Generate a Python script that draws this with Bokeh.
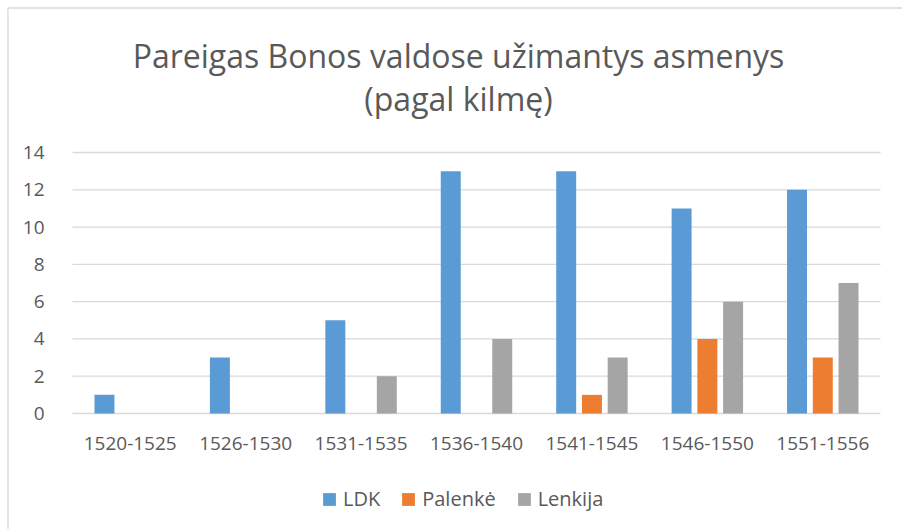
from bokeh.plotting import figure
from bokeh.models import (Range1d, ColumnDataSource, Legend, LegendItem,
                          Label, FixedTicker)
from bokeh.embed import file_html
from bokeh.resources import INLINE

categories = ["1520-1525", "1526-1530", "1531-1535", "1536-1540",
              "1541-1545", "1546-1550", "1551-1556"]
ldk = [1, 3, 5, 13, 13, 11, 12]
palenke = [0, 0, 0, 0, 1, 4, 3]
lenkija = [0, 0, 2, 4, 3, 6, 7]
series_names = ["LDK", "Palenkė", "Lenkija"]
colors = ["#5B9BD5", "#ED7D31", "#A5A5A5"]
y_ticks = [0, 2, 4, 6, 8, 10, 12, 14]
title_line1 = "Pareigas Bonos valdose užimantys asmenys"
title_line2 = "(pagal kilmę)"

FONT = "Open Sans"
TXT = "#595959"
GRID = "#D9D9D9"

# layout (pixels)
W, H = 902, 529
PLOT_L, PLOT_R = 72, 880            # pixel columns of the category band edges
ZERO_PX, TOP_PX = 413, 152          # pixel rows of value 0 and value 14
n = len(categories)
cat_w = (PLOT_R - PLOT_L) / n
ppu = (ZERO_PX - TOP_PX) / 14.0

def px_to_x(px):
    return (px - PLOT_L) / cat_w

def px_to_y(py):
    return (ZERO_PX - py) / ppu

x_start, x_end = px_to_x(0), px_to_x(W)
y_start, y_end = px_to_y(H), px_to_y(0)

centers = [i + 0.5 for i in range(n)]
w = 0.173
off = 0.223
src = ColumnDataSource(dict(x1=[c - off for c in centers], x2=centers,
                            x3=[c + off for c in centers],
                            ldk=ldk, palenke=palenke, lenkija=lenkija))

p = figure(x_range=Range1d(x_start, x_end), y_range=Range1d(y_start, y_end),
           width=W, height=H, output_backend="svg", toolbar_location=None,
           min_border_left=0, min_border_right=0, min_border_top=0, min_border_bottom=0)
p.title = None
p.outline_line_color = None
p.xgrid.grid_line_color = None
p.ygrid.grid_line_color = None

# chart-area border (left and top)
bx, by = px_to_x(7.5), px_to_y(7.5)
p.segment(x0=[bx, bx], y0=[by, by], x1=[bx, x_end], y1=[y_start, by],
          line_color=GRID, line_width=1.3)

# horizontal gridlines across the category band
p.segment(x0=[0] * len(y_ticks), x1=[n] * len(y_ticks), y0=y_ticks, y1=y_ticks,
          line_color=GRID, line_width=1.3)

r1 = p.vbar(x="x1", top="ldk", width=w, source=src, fill_color=colors[0], line_color=None)
r2 = p.vbar(x="x2", top="palenke", width=w, source=src, fill_color=colors[1], line_color=None)
r3 = p.vbar(x="x3", top="lenkija", width=w, source=src, fill_color=colors[2], line_color=None)

p.xaxis.ticker = FixedTicker(ticks=centers)
p.xaxis.major_label_overrides = {c: lab for c, lab in zip(centers, categories)}
p.xaxis.fixed_location = 0
p.yaxis.ticker = FixedTicker(ticks=y_ticks)
p.yaxis.fixed_location = 0

for ax in (p.xaxis[0], p.yaxis[0]):
    ax.axis_line_color = None
    ax.major_tick_line_color = None
    ax.minor_tick_line_color = None
    ax.major_label_text_font = FONT
    ax.major_label_text_color = TXT
p.xaxis.major_label_text_font_size = "19px"
p.yaxis.major_label_text_font_size = "19px"
p.xaxis.major_label_standoff = 17
p.yaxis.major_label_standoff = 22

title_x = px_to_x(458)
for txt, base_px in ((title_line1, 55), (title_line2, 98)):
    p.add_layout(Label(x=title_x, y=px_to_y(base_px), text=txt, text_align="center",
                       text_baseline="alphabetic", text_font=FONT, text_font_size="32px",
                       text_color=TXT))

legend = Legend(items=[LegendItem(label=series_names[0], renderers=[r1]),
                       LegendItem(label=series_names[1], renderers=[r2]),
                       LegendItem(label=series_names[2], renderers=[r3])],
                orientation="horizontal", location=(321, 17), padding=0, margin=0,
                spacing=20, label_standoff=6, glyph_width=16, glyph_height=16,
                label_text_font=FONT, label_text_font_size="20px", label_text_color=TXT,
                border_line_color=None, background_fill_alpha=0)
p.add_layout(legend, "center")

open("out.html", "w").write(file_html(p, INLINE))
